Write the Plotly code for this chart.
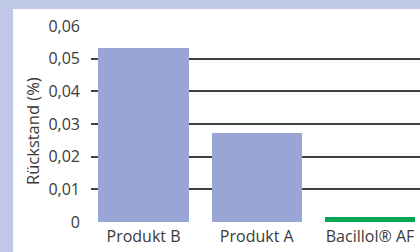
import plotly.graph_objects as go

categories = ["Produkt B", "Produkt A", "Bacillol® AF"]
values = [0.0532, 0.0272, 0.0015]
bar_colors = ["#99a5d4", "#99a5d4", "#00a651"]
tick_vals = [0, 0.01, 0.02, 0.03, 0.04, 0.05, 0.06]
tick_text = ["0", "0,01", "0,02", "0,03", "0,04", "0,05", "0,06"]

W, H = 420, 252
L, R, T, B = 91, 0, 26, 30
pw = W - L - R
ph = H - T - B

fig = go.Figure(go.Bar(
    x=[0, 1, 2], y=values, marker=dict(color=bar_colors, line=dict(width=0)),
    width=0.795,
))

spacing = 113.25
x0 = -(143.5 - L) / spacing
x1 = x0 + pw / spacing

font = dict(family="Open Sans, Noto Sans, sans-serif", color="#3a3a3a")

fig.update_layout(
    template="none",
    width=W, height=H,
    margin=dict(l=L, r=R, t=T, b=B, pad=0, autoexpand=False),
    paper_bgcolor="#bfc8e6",
    plot_bgcolor="rgba(0,0,0,0)",
    showlegend=False,
    font=dict(size=15, **font),
    xaxis=dict(range=[x0, x1], tickmode="array", tickvals=[0, 1, 2], ticktext=categories,
               showgrid=False, zeroline=False, showline=False, ticks="", automargin=False,
               ticklabelstandoff=3,
               tickfont=dict(size=16, **font)),
    yaxis=dict(range=[0, 0.06], tickmode="array", tickvals=tick_vals, ticktext=tick_text,
               showgrid=True, gridcolor="#404040", gridwidth=1.6, zeroline=False,
               showline=False, ticks="", ticklabelstandoff=10, automargin=False,
               tickfont=dict(size=16, **font)),
    shapes=[dict(type="rect", xref="paper", yref="paper",
                 x0=(13 - L) / pw, x1=1.05, y0=-(B + 5) / ph, y1=(H - 9 - B) / ph,
                 fillcolor="white", line=dict(width=0), layer="below")],
    annotations=[dict(text="Rückstand (%)", xref="paper", yref="paper",
                      x=(32 - L) / pw, y=(H - B - 131) / ph, textangle=-90,
                      showarrow=False, font=dict(size=16.5, **font),
                      xanchor="center", yanchor="middle")],
    bargap=0,
)

fig.write_html("out.html", config={"displayModeBar": False},
               post_script="document.body.style.margin='0';document.body.style.overflow='hidden';")
